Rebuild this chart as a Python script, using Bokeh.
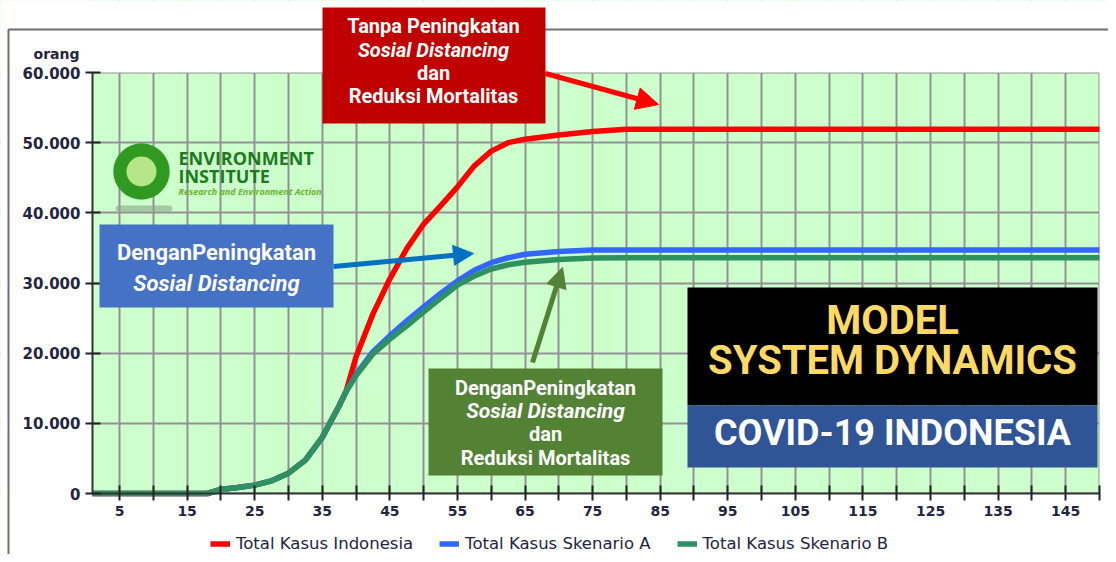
from bokeh.plotting import figure
from bokeh.models import (Range1d, FixedTicker, BoxAnnotation, Label, Arrow,
                          NormalHead, Legend, LegendItem)
from bokeh.embed import file_html
from bokeh.resources import INLINE

# ---------------- data ----------------
days = [1, 18, 20, 22.5, 25, 27.5, 30, 32.5, 35, 37.5, 38.5, 40, 42.5, 45, 47.5,
        50, 52.5, 55, 57.5, 60, 62.5, 65, 70, 75, 80, 150]
total_indonesia = [0, 0, 570, 850, 1190, 1800, 2900, 4750, 8000, 12500, 14500,
                   19500, 25600, 30600, 34900, 38400, 41000, 43700, 46700, 48800,
                   50000, 50500, 51100, 51600, 51900, 51900]
skenario_a = [0, 0, 570, 850, 1190, 1800, 2900, 4750, 8000, 12500, 14500,
              17000, 20200, 22500, 24600, 26600, 28500, 30300, 31800, 32900,
              33600, 34100, 34500, 34700, 34700, 34700]
skenario_b = [0, 0, 570, 850, 1190, 1800, 2900, 4750, 8000, 12500, 14500,
              16800, 19900, 22000, 23900, 25900, 27800, 29700, 31000, 32000,
              32600, 32950, 33350, 33550, 33600, 33600]
series_labels = ["Total Kasus Indonesia", "Total Kasus Skenario A",
                 "Total Kasus Skenario B"]

x_tick_values = [5, 15, 25, 35, 45, 55, 65, 75, 85, 95, 105, 115, 125, 135, 145]
x_tick_labels = ["5", "15", "25", "35", "45", "55", "65", "75", "85", "95",
                 "105", "115", "125", "135", "145"]
x_minor_values = [10, 20, 30, 40, 50, 60, 70, 80, 90, 100, 110, 120, 130, 140, 150]
y_tick_values = [0, 10000, 20000, 30000, 40000, 50000, 60000]
y_tick_labels = ["0", "10.000", "20.000", "30.000", "40.000", "50.000", "60.000"]
y_unit = "orang"
x_first, x_last = 1, 150
y_min, y_max = 0, 60000

# ---------------- layout (pixel geometry of the chart area) ----------------
W, H = 1108, 554
PL, PR, PT, PB = 92, 1099, 72, 493          # chart area on the canvas
kx = (PR - PL) / (x_last - x_first)
ky = (PB - PT) / (y_max - y_min)
x_range = Range1d(x_first - PL / kx, x_first + (W - PL) / kx)
y_range = Range1d(y_min - (H - PB) / ky, y_min + PB / ky)


def sx(px):
    return px


def sy(py):
    return H - py


p = figure(width=W, height=H, x_range=x_range, y_range=y_range, title=None,
           output_backend="svg", toolbar_location=None, min_border=0,
           background_fill_color="#ccffcc", border_fill_color="white",
           outline_line_color=None)

grid_col = "#929292"
p.xaxis.ticker = FixedTicker(ticks=x_tick_values, minor_ticks=x_minor_values)
p.xaxis.major_label_overrides = dict(zip(x_tick_values, x_tick_labels))
p.yaxis.ticker = FixedTicker(ticks=y_tick_values)
p.yaxis.major_label_overrides = dict(zip(y_tick_values, y_tick_labels))
p.xaxis.fixed_location = y_min
p.yaxis.fixed_location = x_first
p.xaxis.bounds = (x_first, x_last)
p.yaxis.bounds = (y_min, y_max)

for ax in (p.xaxis, p.yaxis):
    ax.axis_line_color = "#333333"
    ax.axis_line_width = 2
    ax.major_tick_line_color = "#222222"
    ax.major_tick_line_width = 2
    ax.major_tick_in = 8
    ax.major_tick_out = 7
    ax.minor_tick_line_color = "#222222"
    ax.minor_tick_line_width = 2
    ax.minor_tick_in = 8
    ax.minor_tick_out = 7
    ax.major_label_text_font = "DejaVu Sans"
    ax.major_label_text_font_style = "bold"
    ax.major_label_text_color = "#24243f"
    ax.major_label_standoff = 5
p.xaxis.major_label_text_font_size = "14px"
p.yaxis.major_label_text_font_size = "15px"
p.yaxis.minor_tick_line_color = None

p.xgrid.grid_line_color = grid_col
p.xgrid.grid_line_width = 2
p.xgrid.minor_grid_line_color = grid_col
p.xgrid.minor_grid_line_width = 2
p.ygrid.grid_line_color = grid_col
p.ygrid.grid_line_width = 2

# white surroundings of the chart area (cover grid lines outside it)
for kw in (dict(bottom=y_max), dict(top=y_min), dict(right=x_first),
           dict(left=x_last)):
    p.add_layout(BoxAnnotation(fill_color="white", fill_alpha=1, line_color=None,
                               level="underlay", **kw))

# outer frame of the chart
p.add_layout(BoxAnnotation(left=sx(8), right=sx(1140), top=sy(29), bottom=sy(600),
                           left_units="screen", right_units="screen",
                           top_units="screen", bottom_units="screen",
                           fill_alpha=0, line_color="#707070", line_width=2,
                           line_alpha=1, level="underlay"))

# ---------------- series ----------------
r_red = p.line(days, total_indonesia, line_color="#ff0000", line_width=5.5)
r_blue = p.line(days, skenario_a, line_color="#3366ff", line_width=5.5)
r_green = p.line(days, skenario_b, line_color="#2e9160", line_width=5.5)

legend = Legend(items=[LegendItem(label=series_labels[0], renderers=[r_red]),
                       LegendItem(label=series_labels[1], renderers=[r_blue]),
                       LegendItem(label=series_labels[2], renderers=[r_green])],
                orientation="horizontal", location=(sx(210), sy(553)),
                border_line_color=None, background_fill_alpha=0, padding=0,
                margin=0, spacing=26, label_standoff=6, glyph_width=20,
                glyph_height=9, label_height=17,
                label_text_font="DejaVu Sans", label_text_font_size="16.5px",
                label_text_color="#24243f")
p.add_layout(legend)


def box(l, r, t, b, color, radius=0, alpha=1.0, line=None):
    p.add_layout(BoxAnnotation(left=sx(l), right=sx(r), top=sy(t), bottom=sy(b),
                               left_units="screen", right_units="screen",
                               top_units="screen", bottom_units="screen",
                               fill_color=color, fill_alpha=alpha,
                               line_color=line, border_radius=radius))


def text(px, py, t, size, color="white", style="bold", font="Roboto",
         align="center"):
    p.add_layout(Label(x=sx(px), y=sy(py), x_units="screen", y_units="screen",
                       text=t, text_font=font, text_font_size=size,
                       text_font_style=style, text_color=color,
                       text_align=align, text_baseline="middle"))


def arrow(x0, y0, x1, y1, color, w, head):
    p.add_layout(Arrow(x_start=sx(x0), y_start=sy(y0), x_end=sx(x1), y_end=sy(y1),
                       start_units="screen", end_units="screen",
                       line_color=color, line_width=w,
                       end=NormalHead(size=head, fill_color=color,
                                      line_color=color)))


# y unit label
text(56, 53, y_unit, "14px", color="#24243f", font="DejaVu Sans")

# logo
box(115, 172, 205, 211, "#8aa58a", radius=4, alpha=0.6)
box(113, 169, 143, 199, "#2f9a1f", radius=28, line="#1f7a12")
box(126, 156, 156, 186, "#b7e68a", radius=15)
text(178, 157, "ENVIRONMENT", "18px", color="#1d7a1d", font="Open Sans",
     align="left")
text(178, 175, "INSTITUTE", "18px", color="#1d7a1d", font="Open Sans",
     align="left")
text(178, 191, "Research and Environment Action", "9px", color="#6ab42d",
     style="bold italic", font="Open Sans", align="left")

# red box
arrow(545, 73, 658, 104, "#ff0000", 5, 22)
box(322, 545, 7, 123, "#c00000")
text(433, 25, "Tanpa Peningkatan", "20px")
text(433, 49, "Sosial Distancing", "20px", style="bold italic")
text(433, 72, "dan", "20px")
text(433, 95, "Reduksi Mortalitas", "20px")

# blue box
arrow(333, 266, 473, 253, "#0070c0", 5, 20)
box(99, 333, 224, 307, "#4472c4")
text(216, 252, "DenganPeningkatan", "22px")
text(216, 283, "Sosial Distancing", "22px", style="bold italic")

# green box
arrow(532, 362, 562, 267, "#548235", 5, 20)
box(428, 662, 368, 475, "#548235")
text(545, 387, "DenganPeningkatan", "20px")
text(545, 410, "Sosial Distancing", "21px", style="bold italic")
text(545, 433, "dan", "20px")
text(545, 457, "Reduksi Mortalitas", "20px")

# title block
box(687, 1097, 287, 405, "#000000")
box(687, 1097, 405, 467, "#2f5597")
text(892, 320, "MODEL", "40px", color="#ffd966")
text(892, 360, "SYSTEM DYNAMICS", "40px", color="#ffd966")
text(892, 432, "COVID-19 INDONESIA", "36px", color="white")

open("out.html", "w").write(file_html(p, INLINE))
